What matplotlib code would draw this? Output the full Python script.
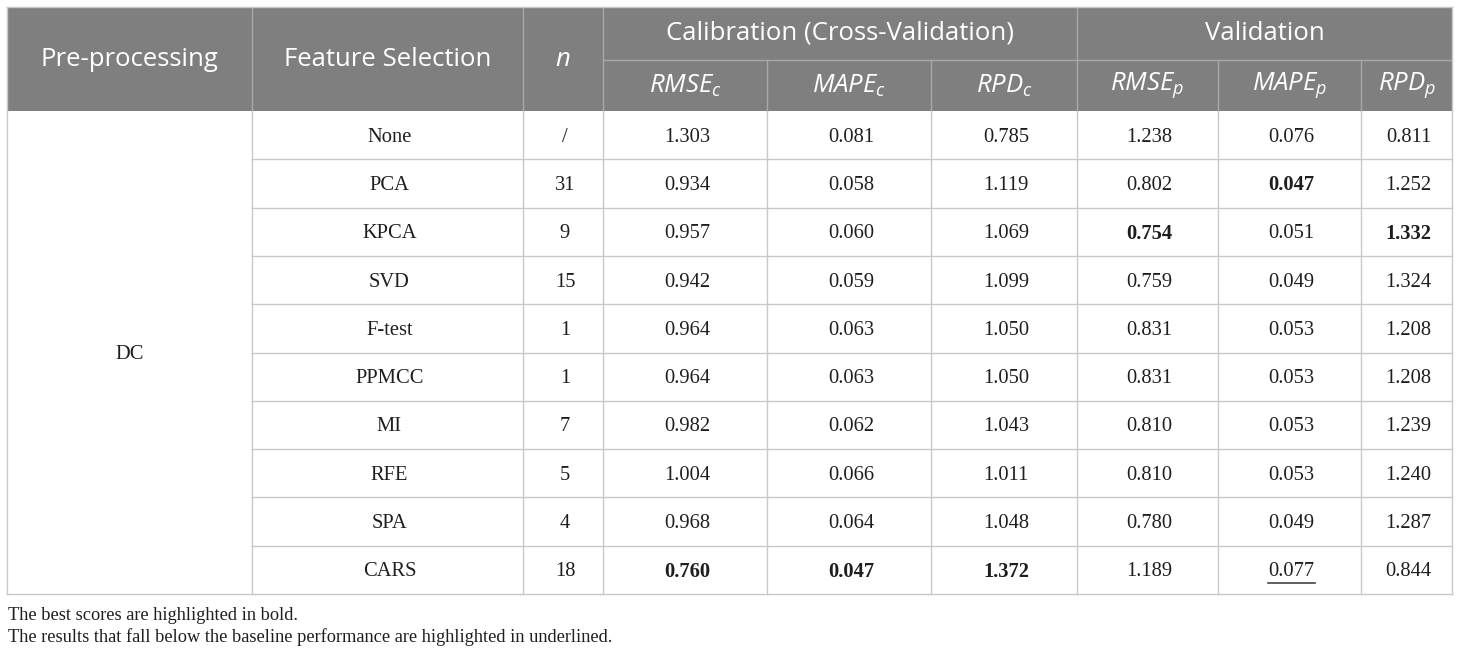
import matplotlib
matplotlib.use("Agg")
import matplotlib.pyplot as plt
from matplotlib.patches import Rectangle

plt.rcParams['mathtext.fontset'] = 'custom'
plt.rcParams['mathtext.rm'] = 'Open Sans'
plt.rcParams['mathtext.it'] = 'Open Sans:italic'

# table content
preprocessing = "DC"
methods = ["None", "PCA", "KPCA", "SVD", "F-test", "PPMCC", "MI", "RFE", "SPA", "CARS"]
n_features = ["/", "31", "9", "15", "1", "1", "7", "5", "4", "18"]
rmse_c = ["1.303", "0.934", "0.957", "0.942", "0.964", "0.964", "0.982", "1.004", "0.968", "0.760"]
mape_c = ["0.081", "0.058", "0.060", "0.059", "0.063", "0.063", "0.062", "0.066", "0.064", "0.047"]
rpd_c = ["0.785", "1.119", "1.069", "1.099", "1.050", "1.050", "1.043", "1.011", "1.048", "1.372"]
rmse_p = ["1.238", "0.802", "0.754", "0.759", "0.831", "0.831", "0.810", "0.810", "0.780", "1.189"]
mape_p = ["0.076", "0.047", "0.051", "0.049", "0.053", "0.053", "0.053", "0.053", "0.049", "0.077"]
rpd_p = ["0.811", "1.252", "1.332", "1.324", "1.208", "1.208", "1.239", "1.240", "1.287", "0.844"]

# (row, column) of highlighted cells, columns counted from Feature Selection = 0
bold_cells = [(1, 6), (2, 5), (2, 7), (9, 2), (9, 3), (9, 4)]
underline_cells = [(9, 6)]

sub_headers = [r"$RMSE_c$", r"$MAPE_c$", r"$RPD_c$", r"$RMSE_p$", r"$MAPE_p$", r"$RPD_p$"]
notes = ["The best scores are highlighted in bold.",
         "The results that fall below the baseline performance are highlighted in underlined."]

# layout in pixels
col_x = [7, 252, 523, 603, 767, 931, 1077, 1218, 1361, 1452]
top, mid, head_bot, bottom = 7, 60, 111, 594
row_h = (bottom - head_bot) / len(methods)

fig = plt.figure(figsize=(14.6, 6.56), dpi=100)
ax = fig.add_axes([0, 0, 1, 1])
ax.set_xlim(0, 1460)
ax.set_ylim(656, 0)
ax.axis("off")

head_color = "#7f7f7f"
grid_color = "#c8c8c8"
head_line = "#a8a8a8"
text_color = "#1e1e1e"
sans = "Open Sans"
serif = "Liberation Serif"
hsize = 18.5
bsize = 14.8

ax.add_patch(Rectangle((col_x[0], top), col_x[-1] - col_x[0], head_bot - top,
                       facecolor=head_color, edgecolor="none"))

# header lines
for x in col_x[1:-1]:
    if x in (767, 931, 1218, 1361):
        ax.plot([x, x], [mid, head_bot], color=head_line, lw=1)
    else:
        ax.plot([x, x], [top, head_bot], color=head_line, lw=1)
ax.plot([col_x[3], col_x[-1]], [mid, mid], color=head_line, lw=1)

hc = (top + head_bot) / 2
ax.text((col_x[0] + col_x[1]) / 2, hc, "Pre-processing", ha="center", va="center",
        color="white", fontsize=hsize, family=sans)
ax.text((col_x[1] + col_x[2]) / 2, hc, "Feature Selection", ha="center", va="center",
        color="white", fontsize=hsize, family=sans)
ax.text((col_x[2] + col_x[3]) / 2, hc, "n", ha="center", va="center",
        color="white", fontsize=hsize, family=sans, style="italic")
ax.text((col_x[3] + col_x[6]) / 2, (top + mid) / 2, "Calibration (Cross-Validation)",
        ha="center", va="center", color="white", fontsize=hsize, family=sans)
ax.text((col_x[6] + col_x[9]) / 2, (top + mid) / 2, "Validation",
        ha="center", va="center", color="white", fontsize=hsize, family=sans)
for i, lab in enumerate(sub_headers):
    ax.text((col_x[3 + i] + col_x[4 + i]) / 2, (mid + head_bot) / 2, lab,
            ha="center", va="center", color="white", fontsize=hsize)

# body grid
for i in range(1, len(methods)):
    y = head_bot + i * row_h
    ax.plot([col_x[1], col_x[-1]], [y, y], color=grid_color, lw=1)
for x in col_x:
    ax.plot([x, x], [head_bot, bottom], color=grid_color, lw=1)
ax.plot([col_x[0], col_x[-1]], [bottom, bottom], color=grid_color, lw=1)
ax.plot([col_x[0], col_x[-1]], [top, top], color=grid_color, lw=1)
ax.plot([col_x[0], col_x[0]], [top, head_bot], color=grid_color, lw=1)
ax.plot([col_x[-1], col_x[-1]], [top, head_bot], color=grid_color, lw=1)

ax.text((col_x[0] + col_x[1]) / 2, (head_bot + bottom) / 2 + 2, preprocessing,
        ha="center", va="center", fontsize=bsize, family=serif, color=text_color)

columns = [methods, n_features, rmse_c, mape_c, rpd_c, rmse_p, mape_p, rpd_p]
for c, values in enumerate(columns):
    x0, x1 = col_x[c + 1], col_x[c + 2]
    xc = (x0 + x1) / 2 + 2
    for r, v in enumerate(values):
        yc = head_bot + (r + 0.5) * row_h + 2
        weight = "bold" if (r, c) in bold_cells else "normal"
        t = ax.text(xc, yc, v, ha="center", va="center", fontsize=bsize,
                    family=serif, color=text_color, weight=weight)
        if (r, c) in underline_cells:
            fig.canvas.draw()
            w = t.get_window_extent().width
            ax.plot([xc - w / 2, xc + w / 2], [yc + 11, yc + 11], color="#444444", lw=1.2)

for i, s in enumerate(notes):
    ax.text(8, 615 + i * 22, s, ha="left", va="center", fontsize=13.2,
            family=serif, color=text_color)

fig.savefig("out.png", dpi=100)
